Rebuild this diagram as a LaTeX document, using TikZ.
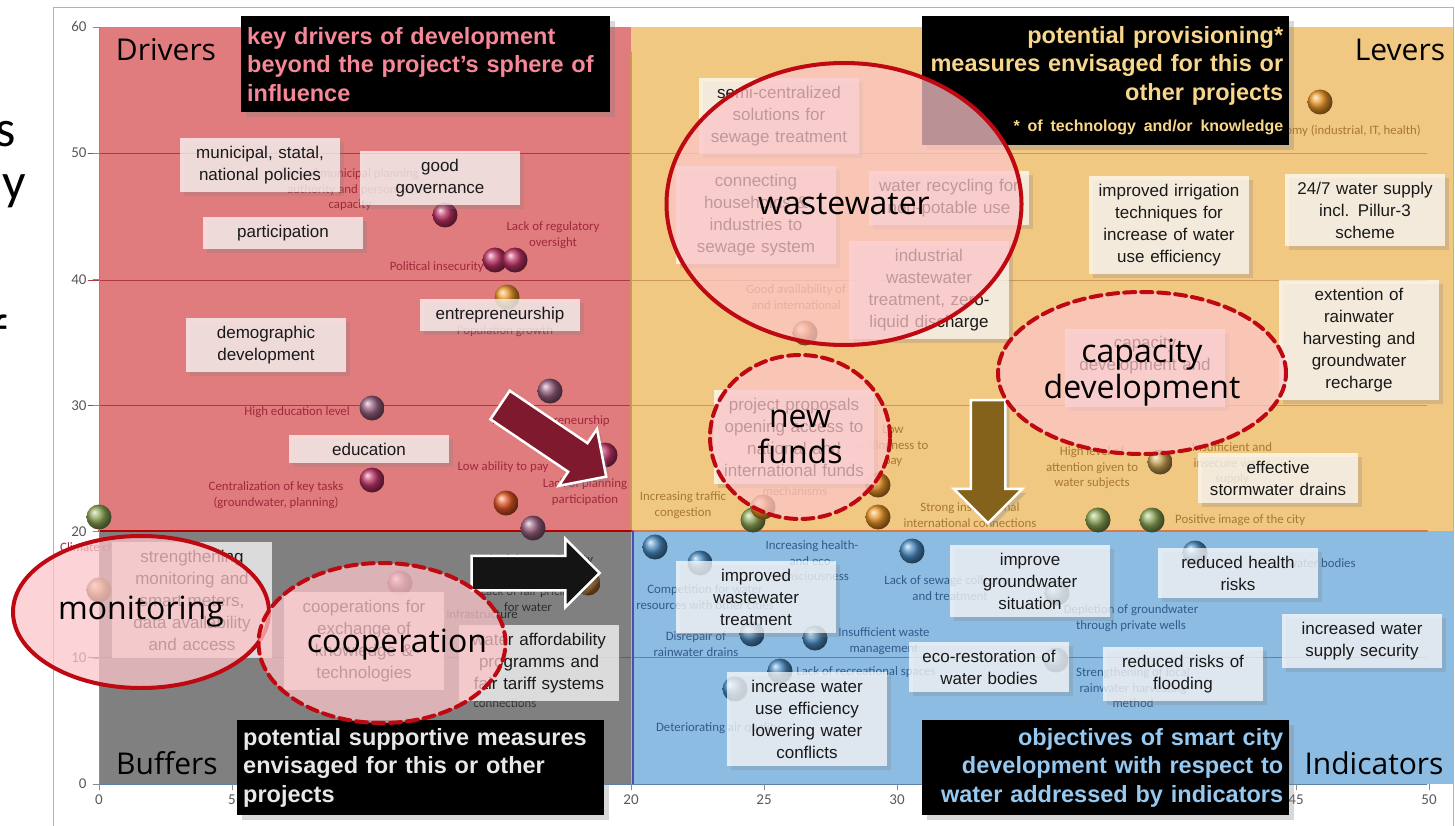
\documentclass[tikz,border=0pt]{standalone}
\usepackage{fontspec}
\setmainfont{Liberation Sans}
\newfontfamily\calfont{Carlito}
\newfontfamily\segfont{Open Sans}
\usetikzlibrary{shapes.geometric,shapes.arrows,shadows}

\definecolor{driverred}{RGB}{224,124,125}
\definecolor{leverorange}{RGB}{241,200,130}
\definecolor{buffergray}{RGB}{128,128,128}
\definecolor{indicblue}{RGB}{141,188,226}
\definecolor{gridred}{RGB}{170,60,65}
\definecolor{gridorange}{RGB}{205,150,90}
\definecolor{gridgray}{RGB}{95,95,95}
\definecolor{gridblue}{RGB}{90,130,170}
\definecolor{ringred}{RGB}{190,8,18}
\definecolor{ringfill}{RGB}{252,196,200}
\definecolor{capred}{RGB}{246,135,150}
\definecolor{capyellow}{RGB}{248,215,140}
\definecolor{capgray}{RGB}{232,232,232}
\definecolor{capblue}{RGB}{150,200,240}
\definecolor{labred}{RGB}{160,40,60}
\definecolor{laborange}{RGB}{168,120,50}
\definecolor{labgray}{RGB}{45,45,45}
\definecolor{labblue}{RGB}{50,90,140}
\definecolor{bubmag}{RGB}{190,50,100}
\definecolor{bubmauve}{RGB}{150,95,125}
\definecolor{buborange}{RGB}{235,150,40}
\definecolor{bubred}{RGB}{225,85,35}
\definecolor{bubgreen}{RGB}{140,165,85}
\definecolor{bubtan}{RGB}{200,160,80}
\definecolor{bubblue}{RGB}{75,140,195}
\definecolor{bubbrown}{RGB}{175,110,35}
\definecolor{arrowred}{RGB}{127,26,46}
\definecolor{arrowbrown}{RGB}{133,98,28}

\tikzset{
  measure/.style={fill=white, fill opacity=0.72, text opacity=1, text=black!90,
    minimum width=160pt, text width=150pt, align=center, inner xsep=5pt, inner ysep=8pt,
    font=\fontsize{17}{22}\selectfont,
    drop shadow={shadow xshift=4pt, shadow yshift=-4pt, opacity=0.25}},
  caption/.style={fill=black, inner sep=6pt, font=\bfseries\fontsize{23.5}{28.5}\selectfont,
    drop shadow={shadow xshift=5pt, shadow yshift=-5pt, opacity=0.3}},
  ring/.style={ellipse, draw=ringred, line width=4pt, fill=ringfill, fill opacity=0.74,
    text opacity=1, inner sep=0pt, align=center, font=\segfont\fontsize{32}{36}\selectfont},
  dashring/.style={ring, dash pattern=on 11pt off 6pt},
  dlab/.style={font=\calfont\fontsize{12.8}{15.5}\selectfont, align=center, inner sep=0pt},
  quadname/.style={font=\segfont\fontsize{30}{32}\selectfont, text=black},
  ticklab/.style={font=\calfont\fontsize{15}{15}\selectfont, text=black!65},
  blockarrow/.style={single arrow, draw=white, line width=2.5pt, minimum width=66pt,
    single arrow head extend=17pt, inner xsep=0pt, inner ysep=16pt,
    drop shadow={shadow xshift=4pt, shadow yshift=-4pt, opacity=0.3}},
}

\begin{document}
\begin{tikzpicture}[x=1pt, y=-1pt, line cap=round]
  \useasboundingbox (0,0) rectangle (1455,826);
  \fill[white] (0,0) rectangle (1455,826);
  % chart frame and quadrants
  \draw[black!30] (53,830) -- (53,7) -- (1453,7) -- (1453,830);
  \fill[driverred] (99,27) rectangle (631,531);
  \fill[leverorange] (631,27) rectangle (1453,531);
  \fill[buffergray] (99,531) rectangle (631,784);
  \fill[indicblue] (631,531) rectangle (1453,784);
  % grid lines
  \foreach \gy in {153,280,405} {
    \draw[gridred] (88,\gy) -- (631,\gy);
    \draw[gridorange] (631,\gy) -- (1427,\gy);
  }
  \draw[gridgray] (88,657) -- (631,657);
  \draw[gridblue] (633,657) -- (1427,657);
  \draw[gridorange, line width=2pt] (631,52) -- (631,531);
  \draw[gridorange!80!red, line width=2pt] (631,531) -- (1427,531);
  \draw[red!70!black, line width=2.5pt] (99,531) -- (631,531);
  \draw[blue!40!gray, line width=1.5pt] (633,531) -- (633,784);
  % axes
  \draw[black!45] (99,27) -- (99,784);
  \draw[gridblue] (99,784) -- (1427,784);
  \foreach \v in {0,10,...,60} {
    \draw[black!45] (93,784-\v*12.617) -- (99,784-\v*12.617);
    \node[ticklab, anchor=east] at (90,784-\v*12.617) {\v};
  }
  \foreach \v in {0,5,...,50} {
    \draw[black!45] (99+\v*26.6,784) -- (99+\v*26.6,790);
    \node[ticklab, anchor=north] at (99+\v*26.6,791) {\v};
  }
  % data bubbles
  \foreach \bx/\by/\bc in {445/215/bubmag, 495/260/bubmag, 515/260/bubmag,
      507/297/buborange, 550/391/bubmauve, 605/455/bubmag, 372/408/bubmauve,
      372/480/bubmag, 506/503/bubred, 533/528/bubmauve, 99/517/bubgreen,
      99/590/bubtan, 400/583/bubmauve, 588/583/bubbrown,
      1320/102/buborange, 805/333/buborange, 878/485/buborange, 878/517/buborange,
      753/520/bubgreen, 763/507/buborange, 1160/462/bubtan, 1098/520/bubgreen,
      1152/520/bubgreen,
      655/547/bubblue, 700/563/bubblue, 752/634/bubblue, 815/638/bubblue,
      780/671/bubblue, 735/689/bubblue, 912/551/bubblue, 1195/553/bubblue,
      1057/593/bubblue, 1056/660/bubblue}
    \shade[ball color=\bc] (\bx,\by) circle (12.5pt);
  % data labels, drivers
  \node[dlab, text=labred] (munplan) at (350,190) {Lack of municipal planning\\authority and personnel\\capacity};
  \node[dlab, text=labred, anchor=east] (polinsec) at (484,267) {Political insecurity};
  \node[dlab, text=labred] (regover) at (553,235) {Lack of regulatory\\oversight};
  \node[dlab, text=labred] (popgrowth) at (505,331) {Population growth};
  \node[dlab, text=labred] (highentre) at (551,421) {High entrepreneurship};
  \node[dlab, text=labred] (planpart) at (585,492) {Lack of planning\\participation};
  \node[dlab, text=labred, anchor=east] (highedu) at (350,412) {High education level};
  \node[dlab, text=labred] (central) at (276,495) {Centralization of key tasks\\(groundwater, planning)};
  \node[dlab, text=labred] (lowpay) at (503,467) {Low ability to pay};
  \node[dlab, text=labred] (climate) at (100,548) {Climate change};
  % data labels, buffers
  \node[dlab, text=labgray] (dataavail) at (533,560) {Lack of data availability};
  \node[dlab, text=labgray] (fairprice) at (528,599) {Lack of fair pricing\\for water};
  \node[dlab, text=labgray, anchor=east] (infra) at (518,614) {Infrastructure};
  \node[dlab, text=labgray] (connect) at (505,703) {connections};
  % data labels, levers
  \node[dlab, text=laborange, anchor=east] (economy) at (1421,131) {economy (industrial, IT, health)};
  \node[dlab, text=laborange] (goodavail) at (796,297) {Good availability of\\and international};
  \node[dlab, text=laborange] (traffic) at (683,505) {Increasing traffic\\congestion};
  \node[dlab, text=laborange] (mechan) at (795,491) {mechanisms};
  \node[dlab, text=laborange] (lowwill) at (893,446) {Low\\willingness to\\pay};
  \node[dlab, text=laborange] (stronginst) at (970,515) {Strong institutional\\international connections};
  \node[dlab, text=laborange] (attention) at (1092,468) {High level of\\attention given to\\water subjects};
  \node[dlab, text=laborange] (insecure) at (1232,464) {Insufficient and\\insecure water\\supply};
  \node[dlab, text=laborange, anchor=west] (posimage) at (1175,520) {Positive image of the city};
  % data labels, indicators
  \node[dlab, text=labblue] (healthcons) at (812,561) {Increasing health-\\and eco-\\consciousness};
  \node[dlab, text=labblue] (competition) at (705,597) {Competition for water\\resources with other cities};
  \node[dlab, text=labblue] (disrepair) at (696,644) {Disrepair of\\rainwater drains};
  \node[dlab, text=labblue] (wastemgmt) at (884,641) {Insufficient waste\\management};
  \node[dlab, text=labblue] (recreation) at (866,672) {Lack of recreational spaces};
  \node[dlab, text=labblue] (airqual) at (718,728) {Deteriorating air quality};
  \node[dlab, text=labblue] (sewage) at (950,588) {Lack of sewage collection\\and treatment};
  \node[dlab, text=labblue] (depletion) at (1131,618) {Depletion of groundwater\\through private wells};
  \node[dlab, text=labblue] (strength) at (1133,688) {Strengthening of local\\rainwater harvesting\\method};
  \node[dlab, text=labblue, anchor=west] (waterbodies) at (1288,563) {water bodies};
  % block arrows
  \node[blockarrow, fill=arrowred, minimum height=128pt, rotate=-34] (redarrow) at (546,436) {};
  \node[blockarrow, fill=black!92, minimum height=128pt] (blackarrow) at (527,573) {};
  \node[blockarrow, fill=arrowbrown, minimum height=123pt, rotate=-90] (brownarrow) at (988,453) {};
  % measures, drivers
  \node[measure] (policies) at (260,165) {municipal, statal,\\national policies};
  \node[measure] (governance) at (440,178) {good\\governance};
  \node[measure] (particip) at (283,233) {participation};
  \node[measure] (entrepr) at (500,315) {entrepreneurship};
  \node[measure] (demogr) at (266,345) {demographic\\development};
  \node[measure] (educ) at (369,449) {education};
  % measures, levers
  \node[measure] (semicentral) at (779,116) {semi-centralized\\solutions for\\sewage treatment};
  \node[measure] (connecting) at (756,215) {connecting\\households \&\\industries to\\sewage system};
  \node[measure] (recycling) at (949,198) {water recycling for\\non-potable use};
  \node[measure] (industrial) at (929,290) {industrial\\wastewater\\treatment, zero-\\liquid discharge};
  \node[measure] (irrigation) at (1169,225) {improved irrigation\\techniques for\\increase of water\\use efficiency};
  \node[measure] (supply) at (1365,210) {24/7 water supply\\incl. Pillur-3\\scheme};
  \node[measure] (rainharvest) at (1359,340) {extention of\\rainwater\\harvesting and\\groundwater\\recharge};
  \node[measure] (capacitybox) at (1145,368) {capacity\\development and\\\strut};
  \node[measure] (proposals) at (794,437) {project proposals\\opening access to\\national and\\international funds};
  \node[measure] (stormwater) at (1278,478) {effective\\stormwater drains};
  % measures, buffers
  \node[measure] (monitorbox) at (192,600) {strengthening\\monitoring and\\smart meters,\\data availability\\and access};
  \node[measure] (coopbox) at (364,641) {cooperations for\\exchange of\\knowledge \&\\technologies};
  \node[measure] (tariff) at (539,663) {water affordability\\programms and\\fair tariff systems};
  % measures, indicators
  \node[measure] (wwtreat) at (756,597) {improved\\wastewater\\treatment};
  \node[measure] (groundw) at (1030,581) {improve\\groundwater\\situation};
  \node[measure] (health) at (1238,573) {reduced health\\risks};
  \node[measure] (security) at (1362,641) {increased water\\supply security};
  \node[measure] (ecoresto) at (989,667) {eco-restoration of\\water bodies};
  \node[measure] (flooding) at (1183,674) {reduced risks of\\flooding};
  \node[measure] (efficiency) at (807,719) {increase water\\use efficiency\\lowering water\\conflicts};
  % black captions
  \node[caption, text=capred, anchor=north west, minimum width=369pt, minimum height=96pt,
    text width=357pt, align=left] (drivercap) at (241,16)
    {key drivers of development\\beyond the project's sphere of\\influence};
  \node[caption, text=capyellow, anchor=north west, minimum width=367pt, minimum height=129pt,
    text width=355pt, align=right] (levercap) at (922,16)
    {potential provisioning*\\measures envisaged for this or\\other projects\\[3pt]{\fontsize{16}{18}\selectfont * of technology and/or knowledge}};
  \node[caption, text=capgray, anchor=north west, minimum width=367pt, minimum height=95pt,
    text width=355pt, align=left] (buffercap) at (237,720)
    {potential supportive measures\\envisaged for this or other\\projects};
  \node[caption, text=capblue, anchor=north west, minimum width=367pt, minimum height=95pt,
    text width=355pt, align=right] (indiccap) at (922,720)
    {objectives of smart city\\development with respect to\\water addressed by indicators};
  % topic rings
  \node[ring, minimum width=355pt, minimum height=282pt] (wastewater) at (844,204) {wastewater};
  \node[dashring, minimum width=180pt, minimum height=164pt] (newfunds) at (800,437) {new\\funds};
  \node[dashring, minimum width=288pt, minimum height=162pt] (capacity) at (1142,373) {capacity\\development};
  \node[ring, minimum width=256pt, minimum height=152pt] (monitoring) at (141,612) {monitoring};
  \node[dashring, minimum width=247pt, minimum height=160pt] (cooperation) at (382,643) {};
  \node[font=\segfont\fontsize{32}{36}\selectfont] (cooplabel) at (397,645) {cooperation};
  % quadrant names
  \node[quadname] (drivers) at (166,50) {Drivers};
  \node[quadname] (levers) at (1400,50) {Levers};
  \node[quadname] (buffers) at (167,763) {Buffers};
  \node[quadname] (indicators) at (1374,763) {Indicators};
  % slide text cut off at the left edge
  \node[font=\calfont\fontsize{52}{52}\selectfont, anchor=base east, inner sep=0pt] (cuts) at (16,147) {s};
  \node[font=\calfont\fontsize{52}{52}\selectfont, anchor=base east, inner sep=0pt] (cuty) at (26,200) {y};
  \node[font=\calfont\fontsize{52}{52}\selectfont, anchor=base east, inner sep=0pt] (cutf) at (8,350) {f};
\end{tikzpicture}
\end{document}
